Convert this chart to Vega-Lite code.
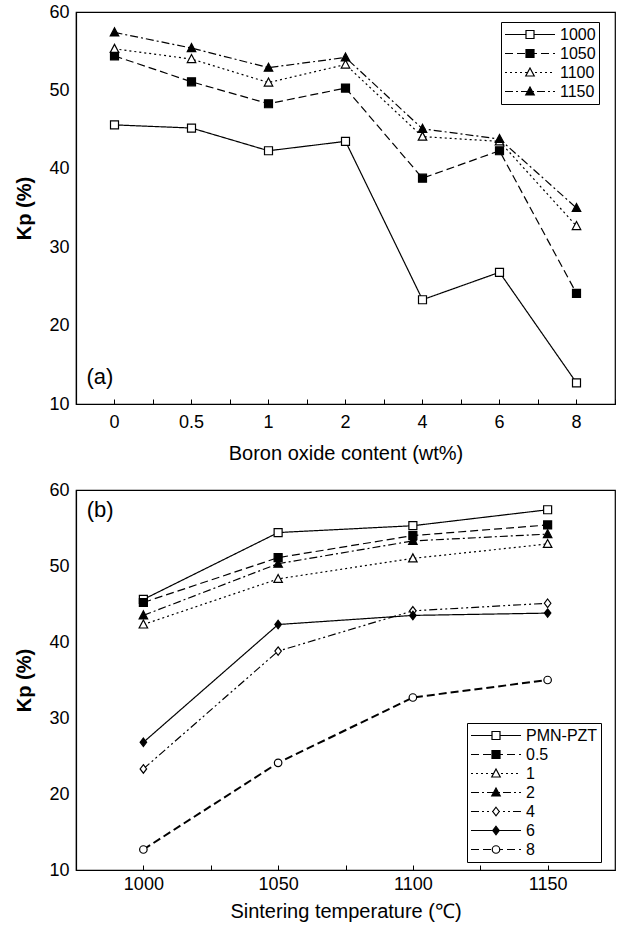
{
  "$schema": "https://vega.github.io/schema/vega-lite/v6.json",
  "background": "white",
  "padding": {"left": 14, "top": 2, "right": 2, "bottom": 2},
  "spacing": 16,
  "resolve": {
    "scale": {"shape": "independent", "fill": "independent", "stroke": "independent", "strokeDash": "independent"},
    "legend": {"shape": "independent", "fill": "independent", "stroke": "independent", "strokeDash": "independent"}
  },
  "config": {
    "font": "Liberation Sans",
    "view": {"stroke": "black", "strokeWidth": 1.2},
    "axis": {"grid": false, "domainColor": "black", "domainWidth": 1.2, "tickColor": "black", "labelColor": "black", "titleColor": "black", "labelFontSize": 18, "titleFontSize": 20, "titleFontWeight": "normal", "labelFont": "Liberation Sans", "titleFont": "Liberation Sans"}
  },
  "datasets": {
    "kp": [
      {"wt": 0, "temp": 1000, "kp": 45.6}, {"wt": 0, "temp": 1050, "kp": 54.4}, {"wt": 0, "temp": 1100, "kp": 55.3}, {"wt": 0, "temp": 1150, "kp": 57.4},
      {"wt": 0.5, "temp": 1000, "kp": 45.2}, {"wt": 0.5, "temp": 1050, "kp": 51.1}, {"wt": 0.5, "temp": 1100, "kp": 54.0}, {"wt": 0.5, "temp": 1150, "kp": 55.4},
      {"wt": 1, "temp": 1000, "kp": 42.3}, {"wt": 1, "temp": 1050, "kp": 48.3}, {"wt": 1, "temp": 1100, "kp": 51.0}, {"wt": 1, "temp": 1150, "kp": 52.9},
      {"wt": 2, "temp": 1000, "kp": 43.5}, {"wt": 2, "temp": 1050, "kp": 50.3}, {"wt": 2, "temp": 1100, "kp": 53.3}, {"wt": 2, "temp": 1150, "kp": 54.2},
      {"wt": 4, "temp": 1000, "kp": 23.3}, {"wt": 4, "temp": 1050, "kp": 38.8}, {"wt": 4, "temp": 1100, "kp": 44.1}, {"wt": 4, "temp": 1150, "kp": 45.1},
      {"wt": 6, "temp": 1000, "kp": 26.8}, {"wt": 6, "temp": 1050, "kp": 42.3}, {"wt": 6, "temp": 1100, "kp": 43.5}, {"wt": 6, "temp": 1150, "kp": 43.8},
      {"wt": 8, "temp": 1000, "kp": 12.7}, {"wt": 8, "temp": 1050, "kp": 24.1}, {"wt": 8, "temp": 1100, "kp": 32.7}, {"wt": 8, "temp": 1150, "kp": 35.0}
    ]
  },
  "vconcat": [
    {
      "width": 539,
      "height": 392,
      "data": {"name": "kp"},
      "resolve": {"axis": {"x": "independent"}},
      "encoding": {
        "y": {"field": "kp", "type": "quantitative", "scale": {"domain": [10, 60], "nice": false},
              "axis": {"title": "Kp (%)", "values": [10, 20, 30, 40, 50, 60], "ticks": false, "labelPadding": 7, "titlePadding": 14, "titleFontWeight": "bold"}}
      },
      "layer": [
        {
          "mark": {"type": "line", "color": "black", "strokeWidth": 1.2},
          "encoding": {
            "x": {"field": "wt", "type": "ordinal", "scale": {"type": "band", "paddingInner": 0, "paddingOuter": 0},
                  "axis": {"orient": "bottom", "title": "Boron oxide content (wt%)", "labelAngle": 0, "tickSize": -5, "labelPadding": 14, "titlePadding": 12}},
            "strokeDash": {"field": "temp", "type": "nominal",
              "scale": {"domain": [1000, 1050, 1100, 1150], "range": [[1, 0], [8, 4], [2, 3], [8, 3, 2, 3]]},
              "legend": {"orient": "none", "legendX": 425, "legendY": 10, "title": null, "symbolType": "stroke", "symbolSize": 2500, "symbolStrokeWidth": 1.2, "symbolStrokeColor": "black", "clipHeight": 19, "rowPadding": 0, "padding": 3, "labelFontSize": 16, "labelOffset": 4, "labelOpacity": 0, "strokeColor": "black", "fillColor": "transparent"}}
          }
        },
        {
          "mark": {"type": "point", "filled": true, "size": 2500, "strokeWidth": 1.2, "opacity": 1},
          "encoding": {
            "x": {"field": "wt", "type": "ordinal",
                  "axis": {"orient": "bottom", "title": null, "labels": false, "domain": false, "tickBand": "extent", "tickSize": -5}},
            "shape": {"field": "temp", "type": "nominal",
              "scale": {"range": ["M-0.16,-0.16H0.16V0.16H-0.16Z", "M-0.16,-0.16H0.16V0.16H-0.16Z", "M0,-0.18L0.17,0.14L-0.17,0.14Z", "M0,-0.18L0.17,0.14L-0.17,0.14Z"]},
              "legend": {"orient": "none", "legendX": 425, "legendY": 10, "title": null, "symbolSize": 2500, "symbolStrokeWidth": 1.2, "clipHeight": 19, "rowPadding": 0, "padding": 3, "labelFontSize": 16, "labelColor": "black", "labelOffset": 4, "strokeColor": "transparent", "fillColor": "transparent"}},
            "fill": {"field": "temp", "type": "nominal",
              "scale": {"range": ["white", "black", "white", "black"]},
              "legend": {"orient": "none", "legendX": 425, "legendY": 10, "title": null, "symbolSize": 2500, "symbolStrokeWidth": 1.2, "clipHeight": 19, "rowPadding": 0, "padding": 3, "labelFontSize": 16, "labelColor": "black", "labelOffset": 4, "strokeColor": "transparent", "fillColor": "transparent"}},
            "stroke": {"field": "temp", "type": "nominal",
              "scale": {"range": ["black", "black", "black", "black"]},
              "legend": {"orient": "none", "legendX": 425, "legendY": 10, "title": null, "symbolSize": 2500, "symbolStrokeWidth": 1.2, "clipHeight": 19, "rowPadding": 0, "padding": 3, "labelFontSize": 16, "labelColor": "black", "labelOffset": 4, "strokeColor": "transparent", "fillColor": "transparent"}}
          }
        },
        {
          "transform": [{"filter": "datum.wt == 0 && datum.temp == 1000"}],
          "mark": {"type": "text", "fontSize": 22, "fontWeight": "normal", "align": "left", "baseline": "middle", "dx": -28, "color": "black"},
          "encoding": {"x": {"datum": 0, "type": "ordinal", "axis": null}, "y": {"datum": 13.4}, "text": {"value": "(a)"}}
        }
      ]
    },
    {
      "width": 539,
      "height": 380,
      "data": {"name": "kp"},
      "encoding": {
        "x": {"field": "temp", "type": "quantitative", "scale": {"domain": [975, 1175], "nice": false, "zero": false},
              "axis": {"title": "Sintering temperature (℃)", "values": [1000, 1025, 1050, 1075, 1100, 1125, 1150], "labelExpr": "datum.value % 50 == 0 ? datum.label : ''", "format": "d", "tickSize": -5, "labelPadding": 10, "titlePadding": 8, "labelFlush": false}},
        "y": {"field": "kp", "type": "quantitative", "scale": {"domain": [10, 60], "nice": false},
              "axis": {"title": "Kp (%)", "values": [10, 20, 30, 40, 50, 60], "ticks": false, "labelPadding": 7, "titlePadding": 14, "titleFontWeight": "bold"}}
      },
      "layer": [
        {
          "transform": [{"filter": "datum.wt != 8"}],
          "mark": {"type": "line", "color": "black", "strokeWidth": 1.2},
          "encoding": {
            "strokeDash": {"field": "wt", "type": "nominal",
              "scale": {"domain": [0, 0.5, 1, 2, 4, 6, 8], "range": [[1, 0], [8, 4], [2, 3], [8, 3, 2, 3], [8, 3, 2, 3, 2, 3], [1, 0], [8, 4]]},
              "legend": {"orient": "none", "legendX": 391, "legendY": 233, "title": null, "symbolType": "stroke", "symbolSize": 2500, "symbolStrokeWidth": 1.2, "symbolStrokeColor": "black", "clipHeight": 19, "rowPadding": 0, "padding": 3, "labelFontSize": 16, "labelOffset": 4, "labelOpacity": 0, "labelExpr": "datum.value == 0 ? 'PMN-PZT' : datum.label", "strokeColor": "black", "fillColor": "transparent"}}
          }
        },
        {
          "transform": [{"filter": "datum.wt == 8"}],
          "mark": {"type": "line", "color": "black", "strokeWidth": 2, "strokeDash": [8, 4]},
          "encoding": {}
        },
        {
          "mark": {"type": "point", "filled": true, "size": 2500, "strokeWidth": 1.2, "opacity": 1},
          "encoding": {
            "shape": {"field": "wt", "type": "nominal",
              "scale": {"range": ["M-0.16,-0.16H0.16V0.16H-0.16Z", "M-0.16,-0.16H0.16V0.16H-0.16Z", "M0,-0.18L0.17,0.14L-0.17,0.14Z", "M0,-0.18L0.17,0.14L-0.17,0.14Z", "M0,-0.17L0.13,0L0,0.17L-0.13,0Z", "M0,-0.17L0.13,0L0,0.17L-0.13,0Z", "M-0.15,0A0.15,0.15,0,1,0,0.15,0A0.15,0.15,0,1,0,-0.15,0Z"]},
              "legend": {"orient": "none", "legendX": 391, "legendY": 233, "title": null, "symbolSize": 2500, "symbolStrokeWidth": 1.2, "clipHeight": 19, "rowPadding": 0, "padding": 3, "labelFontSize": 16, "labelColor": "black", "labelOffset": 4, "labelExpr": "datum.value == 0 ? 'PMN-PZT' : datum.label", "strokeColor": "transparent", "fillColor": "transparent"}},
            "fill": {"field": "wt", "type": "nominal",
              "scale": {"range": ["white", "black", "white", "black", "white", "black", "white"]},
              "legend": {"orient": "none", "legendX": 391, "legendY": 233, "title": null, "symbolSize": 2500, "symbolStrokeWidth": 1.2, "clipHeight": 19, "rowPadding": 0, "padding": 3, "labelFontSize": 16, "labelColor": "black", "labelOffset": 4, "labelExpr": "datum.value == 0 ? 'PMN-PZT' : datum.label", "strokeColor": "transparent", "fillColor": "transparent"}},
            "stroke": {"field": "wt", "type": "nominal",
              "scale": {"range": ["black", "black", "black", "black", "black", "black", "black"]},
              "legend": {"orient": "none", "legendX": 391, "legendY": 233, "title": null, "symbolSize": 2500, "symbolStrokeWidth": 1.2, "clipHeight": 19, "rowPadding": 0, "padding": 3, "labelFontSize": 16, "labelColor": "black", "labelOffset": 4, "labelExpr": "datum.value == 0 ? 'PMN-PZT' : datum.label", "strokeColor": "transparent", "fillColor": "transparent"}}
          }
        },
        {
          "transform": [{"filter": "datum.wt == 0 && datum.temp == 1000"}],
          "mark": {"type": "text", "fontSize": 22, "fontWeight": "normal", "align": "left", "baseline": "middle", "color": "black"},
          "encoding": {"x": {"datum": 979}, "y": {"datum": 57.4}, "text": {"value": "(b)"}}
        }
      ]
    }
  ]
}
